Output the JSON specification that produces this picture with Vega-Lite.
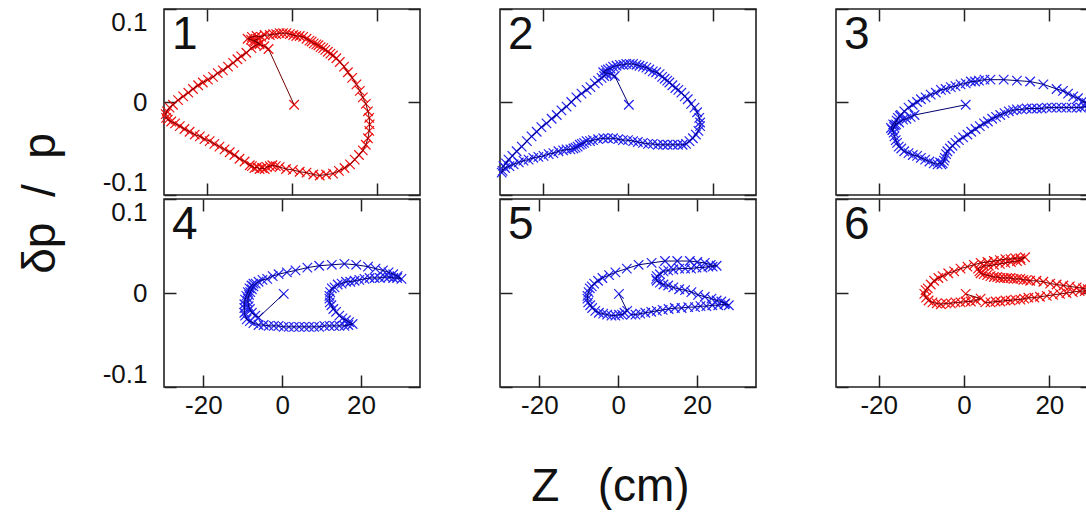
{
"$schema":"https://vega.github.io/schema/vega-lite/v6.json",
"background":"white",
"padding":{"left":16,"top":7,"right":0,"bottom":0},
"config":{
 "font":"Liberation Sans",
 "view":{"stroke":"#222","strokeWidth":1.6},
 "axis":{"domain":false,"grid":false,"tickSize":-12,"tickWidth":1.5,"tickColor":"#222","labelFont":"Liberation Sans","labelFontSize":26,"labelColor":"#111","labelPadding":29,"titleFont":"Liberation Sans","titleFontSize":46,"titleFontWeight":"normal","titleColor":"#111"},
 "axisX":{"labelPadding":17,"labelFlush":false},
 "axisY":{"labelFlush":true},
 "title":{"anchor":"start","frame":"group","offset":-51,"baseline":"alphabetic","dx":8,"fontSize":46,"fontWeight":"normal","font":"Liberation Sans","color":"#111"}
},
"datasets":{
"p1":[{"z":0.5,"d":-0.003},{"z":-5.5,"d":0.057},{"z":-6.5,"d":0.06},{"z":-7.6,"d":0.062},{"z":-8.6,"d":0.065},{"z":-9.6,"d":0.067},{"z":-10.4,"d":0.068},{"z":-9.4,"d":0.07},{"z":-8.3,"d":0.071},{"z":-7.2,"d":0.07},{"z":-6.4,"d":0.072},{"z":-5.2,"d":0.072},{"z":-4.4,"d":0.073},{"z":-3.7,"d":0.073},{"z":-2.9,"d":0.074},{"z":-2.1,"d":0.074},{"z":-1.3,"d":0.074},{"z":-0.5,"d":0.073},{"z":0.3,"d":0.072},{"z":1.0,"d":0.071},{"z":1.8,"d":0.071},{"z":2.6,"d":0.07},{"z":3.4,"d":0.068},{"z":4.1,"d":0.066},{"z":4.6,"d":0.065},{"z":5.1,"d":0.063},{"z":5.7,"d":0.062},{"z":6.2,"d":0.061},{"z":6.7,"d":0.059},{"z":7.3,"d":0.058},{"z":7.8,"d":0.056},{"z":8.4,"d":0.054},{"z":9.0,"d":0.052},{"z":9.6,"d":0.05},{"z":10.4,"d":0.047},{"z":11.2,"d":0.043},{"z":12.2,"d":0.038},{"z":13.1,"d":0.032},{"z":14.1,"d":0.026},{"z":15.1,"d":0.019},{"z":15.9,"d":0.012},{"z":16.6,"d":0.005},{"z":17.3,"d":-0.002},{"z":17.8,"d":-0.01},{"z":18.1,"d":-0.017},{"z":18.2,"d":-0.024},{"z":18.1,"d":-0.031},{"z":17.8,"d":-0.039},{"z":17.3,"d":-0.046},{"z":16.6,"d":-0.052},{"z":15.7,"d":-0.057},{"z":14.7,"d":-0.062},{"z":13.6,"d":-0.067},{"z":12.3,"d":-0.071},{"z":11.0,"d":-0.074},{"z":9.6,"d":-0.077},{"z":8.0,"d":-0.078},{"z":6.5,"d":-0.079},{"z":5.0,"d":-0.078},{"z":3.4,"d":-0.076},{"z":1.8,"d":-0.075},{"z":0.2,"d":-0.073},{"z":-1.4,"d":-0.072},{"z":-2.9,"d":-0.07},{"z":-3.8,"d":-0.069},{"z":-4.6,"d":-0.068},{"z":-5.2,"d":-0.069},{"z":-5.9,"d":-0.07},{"z":-6.4,"d":-0.072},{"z":-7.0,"d":-0.071},{"z":-7.6,"d":-0.072},{"z":-8.2,"d":-0.07},{"z":-8.8,"d":-0.071},{"z":-9.4,"d":-0.069},{"z":-9.9,"d":-0.068},{"z":-11.1,"d":-0.064},{"z":-12.3,"d":-0.061},{"z":-13.5,"d":-0.057},{"z":-14.6,"d":-0.054},{"z":-15.8,"d":-0.051},{"z":-17.0,"d":-0.048},{"z":-18.2,"d":-0.045},{"z":-19.3,"d":-0.042},{"z":-20.5,"d":-0.04},{"z":-21.6,"d":-0.037},{"z":-22.8,"d":-0.035},{"z":-24.0,"d":-0.032},{"z":-25.2,"d":-0.029},{"z":-26.3,"d":-0.026},{"z":-27.4,"d":-0.023},{"z":-28.3,"d":-0.021},{"z":-29.1,"d":-0.019},{"z":-29.5,"d":-0.017},{"z":-29.6,"d":-0.013},{"z":-29.3,"d":-0.01},{"z":-28.7,"d":-0.006},{"z":-27.9,"d":-0.003},{"z":-26.7,"d":0.002},{"z":-25.5,"d":0.006},{"z":-24.3,"d":0.01},{"z":-23.2,"d":0.014},{"z":-22.0,"d":0.018},{"z":-20.9,"d":0.021},{"z":-19.7,"d":0.024},{"z":-18.5,"d":0.027},{"z":-17.4,"d":0.031},{"z":-16.2,"d":0.034},{"z":-15.0,"d":0.038},{"z":-13.8,"d":0.042},{"z":-12.8,"d":0.046},{"z":-11.9,"d":0.049},{"z":-10.7,"d":0.053},{"z":-9.5,"d":0.058},{"z":-8.4,"d":0.061},{"z":-7.6,"d":0.063},{"z":-8.9,"d":0.066},{"z":-7.9,"d":0.068}],
"p2":[{"z":0.2,"d":-0.003},{"z":-3.1,"d":0.028},{"z":-4.0,"d":0.03},{"z":-5.0,"d":0.031},{"z":-5.8,"d":0.032},{"z":-5.2,"d":0.034},{"z":-4.7,"d":0.035},{"z":-4.1,"d":0.036},{"z":-3.5,"d":0.038},{"z":-2.7,"d":0.039},{"z":-1.9,"d":0.04},{"z":-1.1,"d":0.04},{"z":-0.4,"d":0.041},{"z":0.4,"d":0.041},{"z":1.2,"d":0.041},{"z":2.0,"d":0.04},{"z":2.7,"d":0.039},{"z":3.5,"d":0.038},{"z":4.3,"d":0.037},{"z":5.0,"d":0.035},{"z":5.8,"d":0.033},{"z":6.6,"d":0.032},{"z":7.4,"d":0.03},{"z":8.0,"d":0.027},{"z":8.6,"d":0.025},{"z":9.2,"d":0.023},{"z":9.7,"d":0.021},{"z":10.4,"d":0.018},{"z":11.1,"d":0.015},{"z":11.8,"d":0.013},{"z":12.5,"d":0.01},{"z":13.3,"d":0.006},{"z":14.0,"d":0.003},{"z":14.8,"d":-0.002},{"z":15.6,"d":-0.006},{"z":16.2,"d":-0.011},{"z":16.7,"d":-0.017},{"z":16.9,"d":-0.022},{"z":16.9,"d":-0.026},{"z":16.5,"d":-0.031},{"z":15.9,"d":-0.035},{"z":15.2,"d":-0.039},{"z":14.4,"d":-0.042},{"z":13.6,"d":-0.045},{"z":12.8,"d":-0.046},{"z":11.7,"d":-0.046},{"z":10.5,"d":-0.046},{"z":9.3,"d":-0.046},{"z":8.2,"d":-0.046},{"z":7.0,"d":-0.046},{"z":5.8,"d":-0.045},{"z":4.7,"d":-0.045},{"z":3.5,"d":-0.044},{"z":2.3,"d":-0.043},{"z":1.2,"d":-0.042},{"z":0.0,"d":-0.041},{"z":-1.2,"d":-0.041},{"z":-2.3,"d":-0.04},{"z":-3.5,"d":-0.039},{"z":-4.7,"d":-0.039},{"z":-5.8,"d":-0.039},{"z":-7.0,"d":-0.04},{"z":-8.2,"d":-0.041},{"z":-8.9,"d":-0.042},{"z":-9.7,"d":-0.042},{"z":-10.3,"d":-0.044},{"z":-10.8,"d":-0.045},{"z":-11.3,"d":-0.046},{"z":-11.8,"d":-0.048},{"z":-12.3,"d":-0.049},{"z":-12.8,"d":-0.05},{"z":-13.5,"d":-0.051},{"z":-14.4,"d":-0.051},{"z":-15.2,"d":-0.052},{"z":-16.3,"d":-0.053},{"z":-17.5,"d":-0.055},{"z":-18.6,"d":-0.056},{"z":-19.8,"d":-0.058},{"z":-21.0,"d":-0.059},{"z":-22.2,"d":-0.06},{"z":-23.3,"d":-0.062},{"z":-24.5,"d":-0.063},{"z":-25.6,"d":-0.065},{"z":-26.8,"d":-0.067},{"z":-27.8,"d":-0.069},{"z":-28.8,"d":-0.071},{"z":-29.4,"d":-0.074},{"z":-29.6,"d":-0.076},{"z":-29.2,"d":-0.069},{"z":-28.6,"d":-0.066},{"z":-28.0,"d":-0.062},{"z":-27.1,"d":-0.058},{"z":-26.1,"d":-0.053},{"z":-24.9,"d":-0.048},{"z":-23.7,"d":-0.042},{"z":-22.6,"d":-0.037},{"z":-21.4,"d":-0.032},{"z":-20.3,"d":-0.027},{"z":-19.1,"d":-0.023},{"z":-17.9,"d":-0.018},{"z":-16.7,"d":-0.014},{"z":-15.6,"d":-0.009},{"z":-14.4,"d":-0.005},{"z":-13.3,"d":0.0},{"z":-12.1,"d":0.005},{"z":-10.9,"d":0.009},{"z":-9.7,"d":0.013},{"z":-8.8,"d":0.016},{"z":-7.8,"d":0.02},{"z":-7.0,"d":0.023},{"z":-6.2,"d":0.026},{"z":-5.6,"d":0.028},{"z":-5.1,"d":0.03}],
"p3":[{"z":0.4,"d":-0.003},{"z":-11.6,"d":-0.014},{"z":-12.5,"d":-0.016},{"z":-13.5,"d":-0.018},{"z":-14.3,"d":-0.019},{"z":-15.2,"d":-0.022},{"z":-15.9,"d":-0.024},{"z":-16.4,"d":-0.027},{"z":-16.7,"d":-0.03},{"z":-16.2,"d":-0.025},{"z":-15.5,"d":-0.017},{"z":-14.8,"d":-0.014},{"z":-14.0,"d":-0.01},{"z":-13.0,"d":-0.006},{"z":-12.0,"d":-0.003},{"z":-11.0,"d":0.0},{"z":-10.1,"d":0.003},{"z":-9.0,"d":0.005},{"z":-7.8,"d":0.008},{"z":-6.6,"d":0.01},{"z":-5.4,"d":0.013},{"z":-4.3,"d":0.014},{"z":-3.1,"d":0.016},{"z":-2.0,"d":0.017},{"z":-0.8,"d":0.019},{"z":0.4,"d":0.02},{"z":1.6,"d":0.022},{"z":2.6,"d":0.022},{"z":3.5,"d":0.023},{"z":4.8,"d":0.024},{"z":6.2,"d":0.024},{"z":9.3,"d":0.024},{"z":12.4,"d":0.023},{"z":15.5,"d":0.022},{"z":18.6,"d":0.019},{"z":21.7,"d":0.014},{"z":23.2,"d":0.012},{"z":24.4,"d":0.009},{"z":25.6,"d":0.006},{"z":26.7,"d":0.004},{"z":27.8,"d":0.001},{"z":28.7,"d":-0.001},{"z":29.5,"d":-0.004},{"z":28.3,"d":-0.005},{"z":27.4,"d":-0.006},{"z":26.4,"d":-0.006},{"z":25.2,"d":-0.006},{"z":24.0,"d":-0.006},{"z":22.8,"d":-0.006},{"z":21.7,"d":-0.006},{"z":20.5,"d":-0.006},{"z":19.4,"d":-0.006},{"z":18.2,"d":-0.007},{"z":17.1,"d":-0.007},{"z":15.9,"d":-0.007},{"z":14.7,"d":-0.007},{"z":13.6,"d":-0.008},{"z":12.4,"d":-0.008},{"z":11.5,"d":-0.009},{"z":10.5,"d":-0.01},{"z":9.5,"d":-0.012},{"z":8.5,"d":-0.014},{"z":7.5,"d":-0.016},{"z":6.6,"d":-0.018},{"z":5.6,"d":-0.021},{"z":4.7,"d":-0.023},{"z":3.7,"d":-0.026},{"z":2.7,"d":-0.029},{"z":1.7,"d":-0.032},{"z":0.8,"d":-0.035},{"z":-0.2,"d":-0.038},{"z":-1.2,"d":-0.041},{"z":-2.0,"d":-0.044},{"z":-2.7,"d":-0.047},{"z":-3.3,"d":-0.05},{"z":-3.9,"d":-0.053},{"z":-4.2,"d":-0.056},{"z":-4.5,"d":-0.06},{"z":-4.7,"d":-0.063},{"z":-5.0,"d":-0.066},{"z":-5.3,"d":-0.067},{"z":-5.6,"d":-0.065},{"z":-6.2,"d":-0.067},{"z":-7.1,"d":-0.066},{"z":-8.1,"d":-0.064},{"z":-9.1,"d":-0.062},{"z":-10.1,"d":-0.06},{"z":-11.0,"d":-0.058},{"z":-12.0,"d":-0.057},{"z":-13.0,"d":-0.055},{"z":-14.0,"d":-0.053},{"z":-14.7,"d":-0.05},{"z":-15.3,"d":-0.048},{"z":-15.7,"d":-0.044},{"z":-16.0,"d":-0.041},{"z":-16.3,"d":-0.037},{"z":-16.5,"d":-0.033},{"z":-16.8,"d":-0.03},{"z":-17.1,"d":-0.028},{"z":-16.6,"d":-0.024},{"z":-15.8,"d":-0.02},{"z":-15.0,"d":-0.015}],
"p4":[{"z":0.4,"d":-0.001},{"z":-6.0,"d":-0.026},{"z":-6.8,"d":-0.024},{"z":-7.7,"d":-0.021},{"z":-8.2,"d":-0.017},{"z":-8.5,"d":-0.014},{"z":-8.7,"d":-0.01},{"z":-8.7,"d":-0.006},{"z":-8.4,"d":-0.002},{"z":-8.1,"d":0.001},{"z":-7.7,"d":0.004},{"z":-7.3,"d":0.007},{"z":-6.7,"d":0.01},{"z":-6.0,"d":0.012},{"z":-5.0,"d":0.014},{"z":-3.8,"d":0.015},{"z":-2.4,"d":0.018},{"z":-0.9,"d":0.02},{"z":1.2,"d":0.022},{"z":3.4,"d":0.024},{"z":6.4,"d":0.027},{"z":9.4,"d":0.029},{"z":12.6,"d":0.03},{"z":15.8,"d":0.031},{"z":18.8,"d":0.03},{"z":21.8,"d":0.028},{"z":23.7,"d":0.026},{"z":25.6,"d":0.024},{"z":27.0,"d":0.022},{"z":28.2,"d":0.02},{"z":29.3,"d":0.018},{"z":30.3,"d":0.015},{"z":29.2,"d":0.016},{"z":28.2,"d":0.016},{"z":27.1,"d":0.017},{"z":26.1,"d":0.017},{"z":24.8,"d":0.016},{"z":23.5,"d":0.016},{"z":22.2,"d":0.016},{"z":20.9,"d":0.015},{"z":19.6,"d":0.014},{"z":18.4,"d":0.013},{"z":17.3,"d":0.012},{"z":16.2,"d":0.012},{"z":15.1,"d":0.01},{"z":14.1,"d":0.009},{"z":13.3,"d":0.006},{"z":12.6,"d":0.005},{"z":12.2,"d":0.001},{"z":12.0,"d":-0.003},{"z":12.0,"d":-0.006},{"z":12.1,"d":-0.01},{"z":12.5,"d":-0.013},{"z":13.0,"d":-0.017},{"z":13.7,"d":-0.02},{"z":14.5,"d":-0.024},{"z":15.3,"d":-0.027},{"z":16.2,"d":-0.029},{"z":17.0,"d":-0.031},{"z":17.9,"d":-0.033},{"z":16.8,"d":-0.034},{"z":15.8,"d":-0.035},{"z":14.5,"d":-0.035},{"z":13.2,"d":-0.035},{"z":12.0,"d":-0.035},{"z":10.7,"d":-0.035},{"z":9.4,"d":-0.036},{"z":8.1,"d":-0.036},{"z":6.8,"d":-0.036},{"z":5.6,"d":-0.036},{"z":4.3,"d":-0.036},{"z":3.0,"d":-0.036},{"z":1.7,"d":-0.036},{"z":0.4,"d":-0.036},{"z":-0.9,"d":-0.035},{"z":-2.1,"d":-0.035},{"z":-3.4,"d":-0.035},{"z":-4.7,"d":-0.034},{"z":-6.0,"d":-0.034},{"z":-7.3,"d":-0.032},{"z":-8.2,"d":-0.03},{"z":-9.0,"d":-0.028},{"z":-9.4,"d":-0.024},{"z":-9.6,"d":-0.021},{"z":-9.6,"d":-0.016},{"z":-9.6,"d":-0.012},{"z":-9.4,"d":-0.007},{"z":-9.1,"d":-0.003},{"z":-8.7,"d":0.001},{"z":-8.3,"d":0.005},{"z":-7.8,"d":0.008},{"z":-7.3,"d":0.01}],
"p5":[{"z":0.2,"d":-0.001},{"z":2.3,"d":-0.019},{"z":1.6,"d":-0.021},{"z":1.0,"d":-0.023},{"z":0.2,"d":-0.023},{"z":-0.7,"d":-0.024},{"z":-1.7,"d":-0.024},{"z":-2.8,"d":-0.023},{"z":-3.8,"d":-0.022},{"z":-4.9,"d":-0.021},{"z":-5.8,"d":-0.019},{"z":-6.6,"d":-0.016},{"z":-7.1,"d":-0.013},{"z":-7.6,"d":-0.01},{"z":-7.8,"d":-0.006},{"z":-7.8,"d":-0.003},{"z":-7.5,"d":0.001},{"z":-7.2,"d":0.005},{"z":-6.7,"d":0.007},{"z":-6.1,"d":0.01},{"z":-5.1,"d":0.013},{"z":-4.0,"d":0.016},{"z":-2.3,"d":0.019},{"z":-0.7,"d":0.022},{"z":2.2,"d":0.026},{"z":5.2,"d":0.03},{"z":8.5,"d":0.032},{"z":11.9,"d":0.034},{"z":15.0,"d":0.034},{"z":18.2,"d":0.034},{"z":20.1,"d":0.033},{"z":22.0,"d":0.032},{"z":23.5,"d":0.03},{"z":25.0,"d":0.029},{"z":24.0,"d":0.028},{"z":22.9,"d":0.028},{"z":21.4,"d":0.027},{"z":19.9,"d":0.027},{"z":18.5,"d":0.026},{"z":17.0,"d":0.026},{"z":15.5,"d":0.026},{"z":14.0,"d":0.025},{"z":12.7,"d":0.024},{"z":11.5,"d":0.023},{"z":10.6,"d":0.02},{"z":9.8,"d":0.018},{"z":9.6,"d":0.015},{"z":9.8,"d":0.013},{"z":10.6,"d":0.011},{"z":11.5,"d":0.009},{"z":12.7,"d":0.008},{"z":14.0,"d":0.006},{"z":15.5,"d":0.004},{"z":17.0,"d":0.003},{"z":18.6,"d":0.001},{"z":20.3,"d":-0.002},{"z":22.0,"d":-0.004},{"z":23.7,"d":-0.006},{"z":25.0,"d":-0.008},{"z":26.2,"d":-0.009},{"z":27.2,"d":-0.011},{"z":28.1,"d":-0.013},{"z":27.0,"d":-0.012},{"z":25.4,"d":-0.013},{"z":23.9,"d":-0.013},{"z":22.4,"d":-0.014},{"z":20.9,"d":-0.014},{"z":19.5,"d":-0.015},{"z":17.8,"d":-0.015},{"z":16.1,"d":-0.016},{"z":14.4,"d":-0.016},{"z":12.8,"d":-0.017},{"z":11.3,"d":-0.018},{"z":9.8,"d":-0.019},{"z":8.4,"d":-0.02},{"z":6.9,"d":-0.021},{"z":5.6,"d":-0.022},{"z":4.4,"d":-0.023},{"z":3.3,"d":-0.023}],
"p6":[{"z":0.4,"d":-0.001},{"z":3.9,"d":-0.006},{"z":2.8,"d":-0.008},{"z":1.6,"d":-0.009},{"z":0.4,"d":-0.009},{"z":-0.8,"d":-0.01},{"z":-2.0,"d":-0.01},{"z":-3.1,"d":-0.011},{"z":-4.2,"d":-0.011},{"z":-5.4,"d":-0.012},{"z":-6.4,"d":-0.011},{"z":-7.4,"d":-0.01},{"z":-8.3,"d":-0.008},{"z":-8.9,"d":-0.005},{"z":-9.3,"d":-0.001},{"z":-9.0,"d":0.003},{"z":-8.5,"d":0.005},{"z":-7.8,"d":0.009},{"z":-7.0,"d":0.013},{"z":-6.0,"d":0.016},{"z":-5.0,"d":0.018},{"z":-3.7,"d":0.021},{"z":-2.3,"d":0.023},{"z":-0.8,"d":0.026},{"z":0.8,"d":0.028},{"z":2.3,"d":0.03},{"z":3.9,"d":0.032},{"z":5.5,"d":0.033},{"z":7.0,"d":0.034},{"z":8.4,"d":0.035},{"z":9.7,"d":0.036},{"z":10.9,"d":0.036},{"z":12.0,"d":0.037},{"z":13.2,"d":0.037},{"z":14.3,"d":0.038},{"z":13.3,"d":0.035},{"z":12.4,"d":0.034},{"z":11.0,"d":0.033},{"z":9.7,"d":0.032},{"z":8.4,"d":0.031},{"z":7.0,"d":0.03},{"z":5.8,"d":0.029},{"z":4.7,"d":0.029},{"z":3.3,"d":0.026},{"z":3.6,"d":0.023},{"z":3.9,"d":0.021},{"z":4.6,"d":0.02},{"z":5.4,"d":0.019},{"z":6.2,"d":0.018},{"z":7.0,"d":0.017},{"z":7.8,"d":0.017},{"z":8.5,"d":0.016},{"z":9.3,"d":0.016},{"z":10.1,"d":0.016},{"z":10.9,"d":0.016},{"z":11.6,"d":0.015},{"z":12.4,"d":0.015},{"z":13.2,"d":0.015},{"z":13.9,"d":0.014},{"z":14.7,"d":0.014},{"z":15.5,"d":0.013},{"z":17.0,"d":0.013},{"z":18.6,"d":0.012},{"z":20.2,"d":0.01},{"z":21.7,"d":0.009},{"z":23.3,"d":0.008},{"z":24.8,"d":0.007},{"z":26.4,"d":0.006},{"z":27.9,"d":0.005},{"z":29.0,"d":0.004},{"z":29.6,"d":0.004},{"z":28.3,"d":0.002},{"z":27.1,"d":0.002},{"z":25.5,"d":0.001},{"z":24.0,"d":0.0},{"z":22.5,"d":-0.001},{"z":20.9,"d":-0.002},{"z":19.4,"d":-0.003},{"z":17.8,"d":-0.004},{"z":16.5,"d":-0.005},{"z":15.1,"d":-0.005},{"z":14.1,"d":-0.006},{"z":13.2,"d":-0.007},{"z":12.0,"d":-0.007},{"z":10.9,"d":-0.008},{"z":9.7,"d":-0.008},{"z":8.5,"d":-0.009},{"z":7.4,"d":-0.009},{"z":6.2,"d":-0.01},{"z":5.0,"d":-0.01}]
},
"columns":3,
"spacing":{"row":4,"column":80},
"bounds":"flush",
"concat":[
 {"width":256,"height":186,"title":{"text":"1"},"data":{"name":"p1"},
  "layer":[
   {"mark":{"type":"point","shape":"M-1,-1L1,1M-1,1L1,-1","filled":false,"size":90,"strokeWidth":1.2,"color":"#ee1111","opacity":1},
    "encoding":{"x":{"field":"z","type":"quantitative","scale":{"domain":[-30,30],"nice":false,"zero":false},"axis":{"values":[-20,0,20],"labels":false,"title":null}},
     "y":{"field":"d","type":"quantitative","scale":{"domain":[-0.1,0.1],"nice":false,"zero":false},"axis":{"values":[-0.1,0,0.1],"labelExpr":"datum.value == 0 ? '0' : (datum.value < 0 ? '-' : '') + format(abs(datum.value), '.1f')","title":"δp\u00a0\u00a0/\u00a0\u00a0p","titleX":-100,"titleY":194}}}},
   {"mark":{"type":"line","color":"#700000","strokeWidth":1},
    "encoding":{"order":{"value":null},"x":{"field":"z","type":"quantitative","axis":{"orient":"top","values":[-20,0,20],"labels":false,"title":null}},
     "y":{"field":"d","type":"quantitative","axis":{"orient":"right","values":[-0.1,0,0.1],"labels":false,"title":null}}}}
  ],
  "resolve":{"axis":{"x":"independent","y":"independent"}}},
 {"width":256,"height":186,"title":{"text":"2"},"data":{"name":"p2"},
  "layer":[
   {"mark":{"type":"point","shape":"M-1,-1L1,1M-1,1L1,-1","filled":false,"size":90,"strokeWidth":1.2,"color":"#2222ee","opacity":1},
    "encoding":{"x":{"field":"z","type":"quantitative","scale":{"domain":[-30,30],"nice":false,"zero":false},"axis":{"values":[-20,0,20],"labels":false,"title":null}},
     "y":{"field":"d","type":"quantitative","scale":{"domain":[-0.1,0.1],"nice":false,"zero":false},"axis":{"values":[-0.1,0,0.1],"labels":false,"title":null}}}},
   {"mark":{"type":"line","color":"#000070","strokeWidth":1},
    "encoding":{"order":{"value":null},"x":{"field":"z","type":"quantitative","axis":{"orient":"top","values":[-20,0,20],"labels":false,"title":null}},
     "y":{"field":"d","type":"quantitative","axis":{"orient":"right","values":[-0.1,0,0.1],"labels":false,"title":null}}}}
  ],
  "resolve":{"axis":{"x":"independent","y":"independent"}}},
 {"width":256,"height":186,"title":{"text":"3"},"data":{"name":"p3"},
  "layer":[
   {"mark":{"type":"point","shape":"M-1,-1L1,1M-1,1L1,-1","filled":false,"size":90,"strokeWidth":1.2,"color":"#2222ee","opacity":1},
    "encoding":{"x":{"field":"z","type":"quantitative","scale":{"domain":[-30,30],"nice":false,"zero":false},"axis":{"values":[-20,0,20],"labels":false,"title":null}},
     "y":{"field":"d","type":"quantitative","scale":{"domain":[-0.1,0.1],"nice":false,"zero":false},"axis":{"values":[-0.1,0,0.1],"labels":false,"title":null}}}},
   {"mark":{"type":"line","color":"#000070","strokeWidth":1},
    "encoding":{"order":{"value":null},"x":{"field":"z","type":"quantitative","axis":{"orient":"top","values":[-20,0,20],"labels":false,"title":null}},
     "y":{"field":"d","type":"quantitative","axis":{"orient":"right","values":[-0.1,0,0.1],"labels":false,"title":null}}}}
  ],
  "resolve":{"axis":{"x":"independent","y":"independent"}}},
 {"width":256,"height":188,"title":{"text":"4"},"data":{"name":"p4"},
  "layer":[
   {"mark":{"type":"point","shape":"M-1,-1L1,1M-1,1L1,-1","filled":false,"size":90,"strokeWidth":1.2,"color":"#2222ee","opacity":1},
    "encoding":{"x":{"field":"z","type":"quantitative","scale":{"domain":[-30,35],"nice":false,"zero":false},"axis":{"values":[-20,0,20],"labelExpr":"(datum.value < 0 ? '-' : '') + format(abs(datum.value), 'd')","title":null}},
     "y":{"field":"d","type":"quantitative","scale":{"domain":[-0.1,0.1],"nice":false,"zero":false},"axis":{"values":[-0.1,0,0.1],"labelExpr":"datum.value == 0 ? '0' : (datum.value < 0 ? '-' : '') + format(abs(datum.value), '.1f')","title":null}}}},
   {"mark":{"type":"line","color":"#000070","strokeWidth":1},
    "encoding":{"order":{"value":null},"x":{"field":"z","type":"quantitative","axis":{"orient":"top","values":[-20,0,20],"labels":false,"title":null}},
     "y":{"field":"d","type":"quantitative","axis":{"orient":"right","values":[-0.1,0,0.1],"labels":false,"title":null}}}}
  ],
  "resolve":{"axis":{"x":"independent","y":"independent"}}},
 {"width":256,"height":188,"title":{"text":"5"},"data":{"name":"p5"},
  "layer":[
   {"mark":{"type":"point","shape":"M-1,-1L1,1M-1,1L1,-1","filled":false,"size":90,"strokeWidth":1.2,"color":"#2222ee","opacity":1},
    "encoding":{"x":{"field":"z","type":"quantitative","scale":{"domain":[-30,35],"nice":false,"zero":false},"axis":{"values":[-20,0,20],"labelExpr":"(datum.value < 0 ? '-' : '') + format(abs(datum.value), 'd')","title":"Z\u00a0\u00a0\u00a0(cm)","titleX":110,"titleY":113,"titleBaseline":"alphabetic"}},
     "y":{"field":"d","type":"quantitative","scale":{"domain":[-0.1,0.1],"nice":false,"zero":false},"axis":{"values":[-0.1,0,0.1],"labels":false,"title":null}}}},
   {"mark":{"type":"line","color":"#000070","strokeWidth":1},
    "encoding":{"order":{"value":null},"x":{"field":"z","type":"quantitative","axis":{"orient":"top","values":[-20,0,20],"labels":false,"title":null}},
     "y":{"field":"d","type":"quantitative","axis":{"orient":"right","values":[-0.1,0,0.1],"labels":false,"title":null}}}}
  ],
  "resolve":{"axis":{"x":"independent","y":"independent"}}},
 {"width":256,"height":188,"title":{"text":"6"},"data":{"name":"p6"},
  "layer":[
   {"mark":{"type":"point","shape":"M-1,-1L1,1M-1,1L1,-1","filled":false,"size":90,"strokeWidth":1.2,"color":"#ee1111","opacity":1},
    "encoding":{"x":{"field":"z","type":"quantitative","scale":{"domain":[-30,30],"nice":false,"zero":false},"axis":{"values":[-20,0,20],"labelExpr":"(datum.value < 0 ? '-' : '') + format(abs(datum.value), 'd')","title":null}},
     "y":{"field":"d","type":"quantitative","scale":{"domain":[-0.1,0.1],"nice":false,"zero":false},"axis":{"values":[-0.1,0,0.1],"labels":false,"title":null}}}},
   {"mark":{"type":"line","color":"#700000","strokeWidth":1},
    "encoding":{"order":{"value":null},"x":{"field":"z","type":"quantitative","axis":{"orient":"top","values":[-20,0,20],"labels":false,"title":null}},
     "y":{"field":"d","type":"quantitative","axis":{"orient":"right","values":[-0.1,0,0.1],"labels":false,"title":null}}}}
  ],
  "resolve":{"axis":{"x":"independent","y":"independent"}}}
]
}
